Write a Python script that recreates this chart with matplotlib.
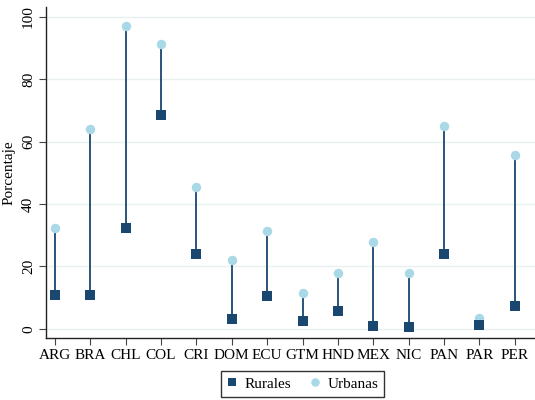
import numpy as np
import matplotlib
matplotlib.use('Agg')
import matplotlib.pyplot as plt

plt.rcParams['font.family'] = ['Liberation Serif', 'DejaVu Serif']

# paises y porcentajes
countries = ['ARG', 'BRA', 'CHL', 'COL', 'CRI', 'DOM', 'ECU',
             'GTM', 'HND', 'MEX', 'NIC', 'PAN', 'PAR', 'PER']
rurales = [10.8, 10.8, 32.4, 68.4, 24.1, 3.3, 10.6,
           2.7, 5.8, 1.0, 0.7, 24.1, 1.4, 7.4]
urbanas = [32.3, 63.9, 97.1, 91.1, 45.4, 22.1, 31.5,
           11.5, 17.8, 27.9, 17.8, 65.1, 3.4, 55.8]
yticks = [0, 20, 40, 60, 80, 100]

navy = '#1a476f'
light = '#a9d8e6'

fig = plt.figure(figsize=(5.35, 4.0), dpi=100)
ax = fig.add_axes([0.086, 0.155, 0.914, 0.8275])

x = np.arange(len(countries))

ax.vlines(x, rurales, urbanas, color=navy, linewidth=1.3, zorder=2)
ax.plot(x, urbanas, 'o', color=light, markersize=6.8, markeredgewidth=0,
        label='Urbanas', zorder=3)
ax.plot(x, rurales, 's', color=navy, markersize=6.5, markeredgewidth=0,
        label='Rurales', zorder=4)

ax.set_xlim(-0.25, 13.57)
ax.set_ylim(-2.9, 103.1)
ax.set_xticks(x)
ax.set_xticklabels(countries, fontsize=11)
ax.set_yticks(yticks)
ax.set_yticklabels([str(v) for v in yticks], fontsize=11, rotation=90, va='center')
ax.set_ylabel('Porcentaje', fontsize=11)
ax.yaxis.set_label_coords(-0.062, 0.5)

ax.grid(axis='y', color='#e8f0f2', linewidth=1.0, zorder=0)
ax.set_axisbelow(True)
for s in ['top', 'right']:
    ax.spines[s].set_visible(False)
for s in ['left', 'bottom']:
    ax.spines[s].set_color('#222222')
    ax.spines[s].set_linewidth(1.0)
ax.tick_params(axis='both', direction='out', length=5, width=0.8,
               color='#444444', pad=3)

handles, labels = ax.get_legend_handles_labels()
leg = fig.legend(handles[::-1], labels[::-1], loc='lower center',
                 bbox_to_anchor=(0.566, 0.0), ncol=2, fontsize=11,
                 frameon=True, fancybox=False, edgecolor='black',
                 handlelength=0.6, handletextpad=0.5, columnspacing=1.3,
                 borderpad=0.4, borderaxespad=0.2, markerscale=0.9)
leg.get_frame().set_linewidth(1.0)

fig.savefig('out.png', dpi=100, facecolor='white')
